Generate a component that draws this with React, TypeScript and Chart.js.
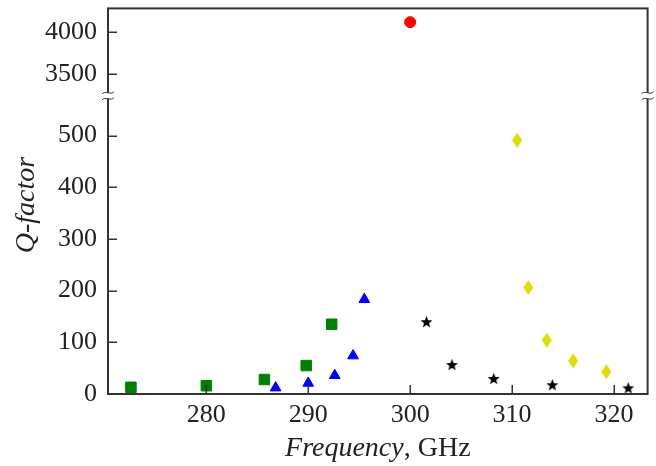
import React, { useEffect, useRef } from "react";
import { Chart, registerables } from "chart.js";

Chart.register(...registerables);

// ---- data ----
const squareFreq = [272.6, 280.0, 285.7, 289.8, 292.3];
const squareQ = [13, 16, 28, 55, 135];

const triangleFreq = [286.8, 290.0, 292.6, 294.4, 295.5];
const triangleQ = [12, 21, 36, 74, 183];

const starFreq = [301.6, 304.1, 308.2, 313.95, 321.4];
const starQ = [140, 57, 30, 18, 12];

const diamondFreq = [310.5, 311.6, 313.4, 316.0, 319.25];
const diamondQ = [491, 206, 104, 64, 43];

const circleFreq = [300.0];
const circleQ = [4124];

const xTicks = [280, 290, 300, 310, 320];
const lowerTicks = [0, 100, 200, 300, 400, 500];
const upperTicks = [3500, 4000];

const TEXT = "#222";
const FRAME = "#333";
const FONT_FAMILY = "'Liberation Serif', 'Times New Roman', serif";

function pts(xs: number[], ys: number[]) {
  return xs.map((x, i) => ({ x, y: ys[i] }));
}

function makeStar(size: number, color: string) {
  const c = document.createElement("canvas");
  c.width = size;
  c.height = size;
  const ctx = c.getContext("2d")!;
  const cx = size / 2;
  const cy = size / 2 + 0.6;
  const R = size / 2 - 0.2;
  const r = R * 0.42;
  ctx.beginPath();
  for (let i = 0; i < 10; i++) {
    const a = -Math.PI / 2 + (i * Math.PI) / 5;
    const rad = i % 2 === 0 ? R : r;
    const px = cx + rad * Math.cos(a);
    const py = cy + rad * Math.sin(a);
    if (i === 0) ctx.moveTo(px, py);
    else ctx.lineTo(px, py);
  }
  ctx.closePath();
  ctx.fillStyle = color;
  ctx.fill();
  return c;
}

function makeDiamond(w: number, h: number, color: string) {
  const c = document.createElement("canvas");
  c.width = w;
  c.height = h;
  const ctx = c.getContext("2d")!;
  ctx.beginPath();
  ctx.moveTo(w / 2, 0);
  ctx.lineTo(w, h / 2);
  ctx.lineTo(w / 2, h);
  ctx.lineTo(0, h / 2);
  ctx.closePath();
  ctx.fillStyle = color;
  ctx.fill();
  return c;
}

const decorPlugin = {
  id: "decor",
  afterDraw(chart: any) {
    const ctx: CanvasRenderingContext2D = chart.ctx;
    const a = chart.chartArea;
    const sx = chart.scales.x;
    const sy = chart.scales.y;
    const sy2 = chart.scales.y2;
    ctx.save();
    // frame
    ctx.strokeStyle = FRAME;
    ctx.lineWidth = 2;
    ctx.strokeRect(a.left, a.top, a.right - a.left, a.bottom - a.top);
    // inward ticks
    ctx.lineWidth = 1.5;
    ctx.beginPath();
    [sy, sy2].forEach((s: any) => {
      s.ticks.forEach((_t: any, i: number) => {
        const p = Math.round(s.getPixelForTick(i)) + 0.25;
        ctx.moveTo(a.left, p);
        ctx.lineTo(a.left + 9, p);
      });
    });
    sx.ticks.forEach((_t: any, i: number) => {
      const p = Math.round(sx.getPixelForTick(i)) + 0.25;
      ctx.moveTo(p, a.bottom);
      ctx.lineTo(p, a.bottom - 9);
    });
    ctx.stroke();
    // axis break marks
    const by = sy2.bottom;
    [a.left, a.right].forEach((bx: number) => {
      ctx.fillStyle = "#fff";
      ctx.fillRect(bx - 3, by - 3, 6, 6);
      ctx.strokeStyle = FRAME;
      ctx.lineWidth = 1;
      [by - 3, by + 3].forEach((cy: number) => {
        ctx.beginPath();
        ctx.moveTo(bx - 6, cy + 1.2);
        ctx.bezierCurveTo(bx - 3, cy - 3, bx + 3, cy + 3, bx + 6, cy - 1.2);
        ctx.stroke();
      });
    });
    // axis titles
    ctx.fillStyle = TEXT;
    ctx.textBaseline = "alphabetic";
    const italic = `italic 28px ${FONT_FAMILY}`;
    const normal = `28px ${FONT_FAMILY}`;
    ctx.font = italic;
    const w1 = ctx.measureText("Frequency").width;
    ctx.font = normal;
    const w2 = ctx.measureText(", GHz").width;
    const cx = (a.left + a.right) / 2;
    const start = cx - (w1 + w2) / 2;
    ctx.textAlign = "left";
    ctx.font = italic;
    ctx.fillText("Frequency", start, 456);
    ctx.font = normal;
    ctx.fillText(", GHz", start + w1, 456);
    ctx.save();
    ctx.translate(34, 205);
    ctx.rotate(-Math.PI / 2);
    ctx.textAlign = "center";
    ctx.font = italic;
    ctx.fillText("Q-factor", 0, 0);
    ctx.restore();
    ctx.restore();
  },
};

function fixedTicks(values: number[]) {
  return (s: any) => {
    s.ticks = values.map((v) => ({ value: v }));
  };
}

export default function App() {
  const ref = useRef<HTMLCanvasElement>(null);
  useEffect(() => {
    if (!ref.current) return;
    const tickFont = { family: FONT_FAMILY, size: 26 };
    const star = makeStar(13, "#000");
    const diamond = makeDiamond(10, 15, "#dddd00");
    const fmt = (v: any) => String(v);
    const chart = new Chart(ref.current, {
      type: "scatter",
      data: {
        datasets: [
          {
            label: "squares",
            data: pts(squareFreq, squareQ),
            pointStyle: "rect",
            pointRadius: 7.4,
            borderWidth: 1,
            backgroundColor: "#008000",
            borderColor: "#008000",
            yAxisID: "y",
          },
          {
            label: "triangles",
            data: pts(triangleFreq, triangleQ),
            pointStyle: "triangle",
            pointRadius: 6.2,
            borderWidth: 1,
            backgroundColor: "#0000ff",
            borderColor: "#0000ff",
            yAxisID: "y",
          },
          {
            label: "stars",
            data: pts(starFreq, starQ),
            pointStyle: star as any,
            pointRadius: 6,
            backgroundColor: "#000",
            borderColor: "#000",
            yAxisID: "y",
          },
          {
            label: "diamonds",
            data: pts(diamondFreq, diamondQ),
            pointStyle: diamond as any,
            pointRadius: 7,
            backgroundColor: "#dddd00",
            borderColor: "#dddd00",
            yAxisID: "y",
          },
          {
            label: "circle",
            data: pts(circleFreq, circleQ),
            pointStyle: "circle",
            pointRadius: 5.5,
            borderWidth: 1,
            backgroundColor: "#ff0000",
            borderColor: "#ff0000",
            yAxisID: "y2",
          },
        ],
      },
      options: {
        animation: false,
        responsive: true,
        maintainAspectRatio: false,
        layout: { padding: { top: 8, right: 8, left: 0, bottom: 0 } },
        plugins: {
          legend: { display: false },
          tooltip: { enabled: false },
        },
        scales: {
          x: {
            type: "linear",
            position: "bottom",
            min: 270.35,
            max: 323.3,
            grid: { display: false, drawTicks: false },
            border: { display: false },
            ticks: {
              autoSkip: false,
              maxRotation: 0,
              padding: 6,
              color: TEXT,
              font: tickFont,
              callback: fmt,
            },
            afterBuildTicks: fixedTicks(xTicks),
            afterFit: (s: any) => {
              s.height = 72;
              s.paddingLeft = 0;
              s.paddingRight = 0;
            },
          },
          y: {
            type: "linear",
            position: "left",
            stack: "q",
            stackWeight: 298.3,
            weight: 0,
            min: 0,
            max: 577,
            grid: { display: false, drawTicks: false },
            border: { display: false },
            ticks: {
              autoSkip: false,
              padding: 11,
              color: TEXT,
              font: tickFont,
              callback: fmt,
            },
            afterBuildTicks: fixedTicks(lowerTicks),
            afterFit: (s: any) => {
              s.width = 108;
              s.paddingTop = 0;
              s.paddingBottom = 0;
            },
          },
          y2: {
            type: "linear",
            position: "left",
            stack: "q",
            stackWeight: 87.4,
            weight: 1,
            min: 3234,
            max: 4290,
            grid: { display: false, drawTicks: false },
            border: { display: false },
            ticks: {
              autoSkip: false,
              padding: 11,
              color: TEXT,
              font: tickFont,
              callback: fmt,
            },
            afterBuildTicks: fixedTicks(upperTicks),
            afterFit: (s: any) => {
              s.width = 108;
              s.paddingTop = 0;
              s.paddingBottom = 0;
            },
          },
        } as any,
      },
      plugins: [decorPlugin],
    } as any);
    return () => chart.destroy();
  }, []);
  return (
    <div style={{ position: "absolute", left: 0, top: 0, width: 656, height: 466 }}>
      <canvas ref={ref} />
    </div>
  );
}
